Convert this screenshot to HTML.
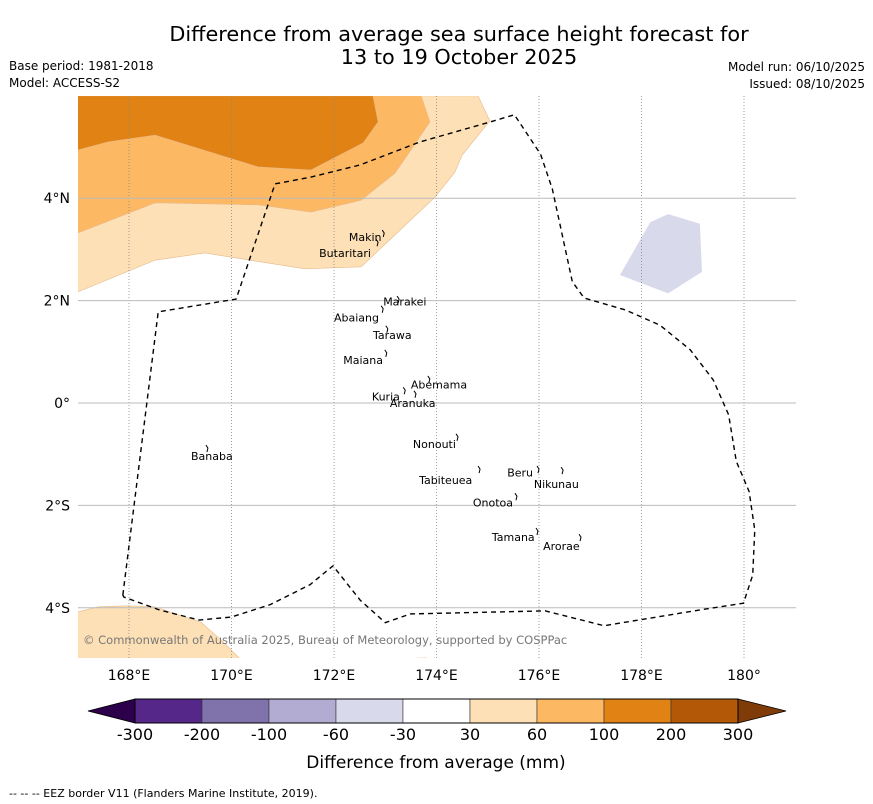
<!DOCTYPE html>
<html><head><meta charset="utf-8"><style>
body{margin:0;background:#fff;font-family:"DejaVu Sans","Liberation Sans",sans-serif}
svg{display:block}
</style></head><body>
<svg id="c" width="873" height="804" xmlns="http://www.w3.org/2000/svg" font-family="DejaVu Sans, Liberation Sans, sans-serif">
<text x="459" y="41" font-size="20.8" text-anchor="middle">Difference from average sea surface height forecast for</text>
<text x="459" y="64" font-size="20.8" text-anchor="middle">13 to 19 October 2025</text>
<text x="9" y="70" font-size="12">Base period: 1981-2018</text>
<text x="9" y="87" font-size="12">Model: ACCESS-S2</text>
<text x="865" y="71" font-size="12" text-anchor="end">Model run: 06/10/2025</text>
<text x="865" y="88" font-size="12" text-anchor="end">Issued: 08/10/2025</text>
<defs><clipPath id="mc"><rect x="78" y="96" width="718" height="562"/></clipPath></defs>
<g id="map" clip-path="url(#mc)"></g>
<g id="ax"></g>
<text x="83" y="644" font-size="11.5" fill="#777">© Commonwealth of Australia 2025, Bureau of Meteorology, supported by COSPPac</text>
<g id="cb"></g>
<text x="436" y="768" font-size="17" text-anchor="middle">Difference from average (mm)</text>
<text x="9" y="797" font-size="11">--  --  -- EEZ border V11 (Flanders Marine Institute, 2019).</text>
</svg>
<script>
const NS='http://www.w3.org/2000/svg';
const lonTicks=[168,170,172,174,176,178,180];
const lonLabels=['168°E','170°E','172°E','174°E','176°E','178°E','180°'];
const latTicks=[4,2,0,-2,-4];
const latLabels=['4°N','2°N','0°','2°S','4°S'];
const cbLevels=['-300','-200','-100','-60','-30','30','60','100','200','300'];
const cbColors=['#542788','#8073ac','#b2abd2','#d8daeb','#ffffff','#fee0b6','#fdb863','#e08214','#b35806'];
// contour polygons [lon,lat]
const light30=[[167,6],[174.81,6],[175.04,5.51],[174.5,4.84],[174.36,4.51],[173.97,4.02],[172.53,2.66],[171.43,2.62],[169.48,2.93],[168.51,2.79],[167,2.17]];
const mid60=[[167,6],[173.7,6],[173.87,5.49],[173.5,4.94],[173.19,4.49],[172.53,3.96],[171.55,3.73],[170.52,3.87],[168.51,3.91],[167,3.32]];
const dark100=[[167,6],[172.76,6],[172.86,5.49],[172.57,5.08],[171.55,4.55],[170.52,4.61],[168.51,5.23],[167.59,5.1],[167,4.94]];
const lightSW=[[167,-4.08],[167.4,-3.98],[168,-3.96],[168.5,-3.98],[169.4,-4.28],[169.8,-4.63],[170.27,-5.1],[167,-5.1]];
const lightS=[[173.3,-5.1],[173.4,-4.99],[173.8,-4.98],[174,-5.1]];
const purple=[[177.58,2.5],[178.17,3.53],[178.52,3.69],[179.14,3.5],[179.18,2.56],[178.52,2.14]];
const eez=[[167.88,-3.75],[168.57,1.78],[170.09,2.03],[170.85,4.28],[171.54,4.41],[172.51,4.65],[173.68,5.1],[175.05,5.49],[175.52,5.63],[176.03,4.86],[176.26,4.18],[176.65,2.37],[176.88,2.05],[177.68,1.82],[178.36,1.52],[178.95,1.04],[179.4,0.45],[179.7,-0.23],[179.85,-1.14],[180.1,-1.73],[180.21,-2.48],[180.17,-3.36],[179.99,-3.91],[179.15,-4.04],[177.27,-4.35],[176.12,-4.06],[173.49,-4.12],[173.0,-4.29],[172.51,-3.85],[171.98,-3.18],[171.53,-3.55],[170.75,-3.94],[170.0,-4.18],[169.37,-4.24],[168.59,-4.04],[167.9,-3.79]];
const islandNames=['Makin','Butaritari','Marakei','Abaiang','Tarawa','Maiana','Abemama','Kuria','Aranuka','Banaba','Nonouti','Beru','Nikunau','Tabiteuea','Onotoa','Tamana','Arorae'];
const labelLon=[172.29,171.71,172.96,172.0,172.76,172.18,173.5,172.74,173.09,169.21,173.54,175.38,175.9,173.66,174.71,175.08,176.08];
const labelLat=[3.24,2.93,1.98,1.67,1.33,0.84,0.36,0.13,0.0,-1.04,-0.8,-1.36,-1.58,-1.5,-1.94,-2.62,-2.79];
const islandLon=[172.98,172.86,173.27,172.96,173.05,173.03,173.87,173.39,173.6,169.54,174.42,176.0,176.47,174.85,175.57,175.98,176.82];
const islandLat=[3.3,3.12,2.01,1.82,1.43,0.96,0.45,0.23,0.16,-0.9,-0.68,-1.31,-1.33,-1.31,-1.84,-2.52,-2.64];
const X=lon=>129+(lon-168)*51.25;
const Y=lat=>403-lat*51.2;
function mk(t,p,a){const e=document.createElementNS(NS,t);for(const k in a)e.setAttribute(k,a[k]);p.appendChild(e);return e;}
const map=document.getElementById('map'),ax=document.getElementById('ax'),cb=document.getElementById('cb');
function poly(pts,fill,name){const e=mk('polygon',map,{points:pts.map(p=>X(p[0])+','+Y(p[1])).join(' '),fill:fill,stroke:fill==='#d8daeb'?'none':'#e6b98a','stroke-width':0.6});

}
poly(light30,'#fee0b6','contour-30-60');
poly(mid60,'#fdb863','contour-60-100');
poly(dark100,'#e08214','contour-100-200');
poly(lightSW,'#fee0b6','contour-30-60-southwest');
poly(lightS,'#fee0b6','contour-30-60-south');
poly(purple,'#d8daeb','contour-minus30-minus60');
lonTicks.forEach((l,i)=>{const g=mk('line',map,{x1:X(l),x2:X(l),y1:96,y2:658,stroke:'#888','stroke-width':0.8,'stroke-dasharray':'1,2'});


const t=mk('text',ax,{x:X(l),y:680,'font-size':14,'text-anchor':'middle'});t.textContent=lonLabels[i];

});
latTicks.forEach((l,i)=>{const g=mk('line',map,{x1:78,x2:796,y1:Y(l),y2:Y(l),stroke:'#bbb','stroke-width':1});


const t=mk('text',ax,{x:70,y:Y(l)+5,'font-size':14,'text-anchor':'end'});t.textContent=latLabels[i];

});
const ez=mk('polygon',map,{points:eez.map(p=>X(p[0])+','+Y(p[1])).join(' '),fill:'none',stroke:'#000','stroke-width':1.4,'stroke-dasharray':'5,4'});


islandNames.forEach((n,i)=>{const x=X(islandLon[i]),y=Y(islandLat[i]);
const m=mk('path',map,{d:`M${x-2},${y-4} l2,3 l-1,4`,stroke:'#000',fill:'none','stroke-width':1});


const t=mk('text',map,{x:X(labelLon[i]),y:Y(labelLat[i])+4,'font-size':11,'text-anchor':'start'});t.textContent=n;

});
// colorbar
const cx0=135,cw=67,cy=699,ch=24;
const lt=mk('polygon',cb,{points:`88,711 ${cx0},${cy} ${cx0},${cy+ch}`,fill:'#2d004b',stroke:'#000','stroke-width':0.8});


cbColors.forEach((c,i)=>{const r=mk('rect',cb,{x:cx0+i*cw,y:cy,width:cw,height:ch,fill:c,stroke:'#333','stroke-width':0.6});

});
const rt=mk('polygon',cb,{points:`${cx0+9*cw},${cy} 786,711 ${cx0+9*cw},${cy+ch}`,fill:'#7f3b08',stroke:'#000','stroke-width':0.8});


mk('rect',cb,{x:cx0,y:cy,width:9*cw,height:ch,fill:'none',stroke:'#000','stroke-width':1});
cbLevels.forEach((l,i)=>{const t=mk('text',cb,{x:cx0+i*cw,y:740,'font-size':16,'text-anchor':'middle'});t.textContent=l;

});
</script>
</body></html>
